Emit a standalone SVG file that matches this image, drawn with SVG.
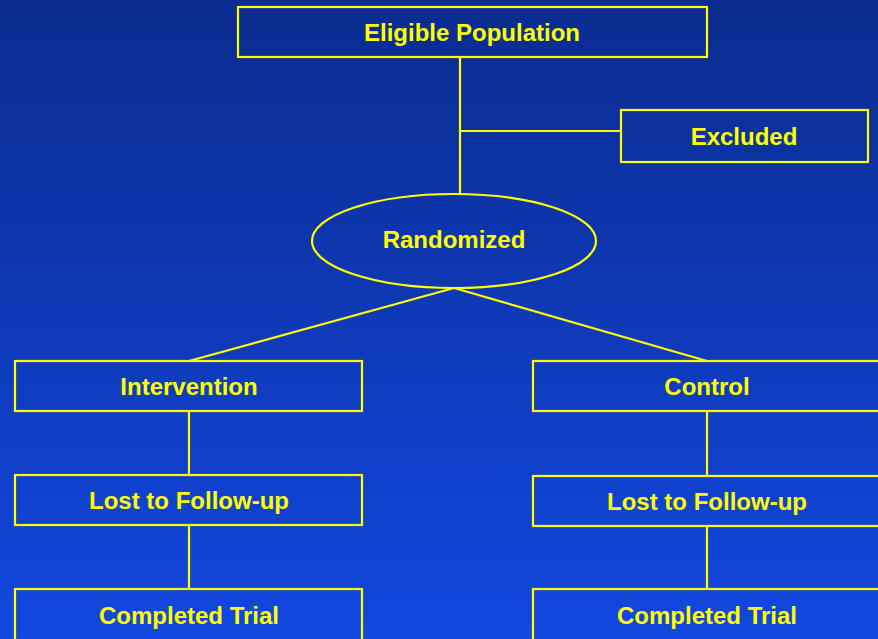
<svg xmlns="http://www.w3.org/2000/svg" width="878" height="639" viewBox="0 0 878 639">
  <defs>
    <linearGradient id="bg" x1="0" y1="0" x2="0" y2="1">
      <stop offset="0" stop-color="#0b2b8e"/>
      <stop offset="1" stop-color="#1248e0"/>
    </linearGradient>
    <style>
      .box { fill: none; stroke: #ffff00; stroke-width: 2.2; }
      .link { fill: none; stroke: #ffff00; stroke-width: 2.2; }
      .label { fill: #ffff00; font-family: "Liberation Sans", Arial, sans-serif; font-weight: bold; font-size: 24px; text-anchor: middle; }
    </style>
  </defs>

  <rect x="0" y="0" width="878" height="639" fill="url(#bg)"/>

  <!-- connectors -->
  <g id="connectors">
    <line class="link" x1="460" y1="57" x2="460" y2="194"/>
    <line class="link" x1="460" y1="131" x2="621" y2="131"/>
    <line class="link" x1="454" y1="288" x2="189" y2="361"/>
    <line class="link" x1="454" y1="288" x2="707" y2="361"/>
    <line class="link" x1="189" y1="411" x2="189" y2="475"/>
    <line class="link" x1="189" y1="525" x2="189" y2="589"/>
    <line class="link" x1="707" y1="411" x2="707" y2="476"/>
    <line class="link" x1="707" y1="526" x2="707" y2="589"/>
  </g>

  <g id="eligible">
    <rect class="box" x="238" y="7" width="469" height="50"/>
    <text class="label" x="472" y="41">Eligible Population</text>
  </g>

  <g id="excluded">
    <rect class="box" x="621" y="110" width="247" height="52"/>
    <text class="label" x="744" y="145">Excluded</text>
  </g>

  <g id="randomized">
    <ellipse class="box" cx="454" cy="241" rx="142" ry="47"/>
    <text class="label" x="454" y="248">Randomized</text>
  </g>

  <g id="intervention">
    <rect class="box" x="15" y="361" width="347" height="50"/>
    <text class="label" x="189" y="395">Intervention</text>
  </g>

  <g id="control">
    <rect class="box" x="533" y="361" width="347" height="50"/>
    <text class="label" x="707" y="395">Control</text>
  </g>

  <g id="lost-intervention">
    <rect class="box" x="15" y="475" width="347" height="50"/>
    <text class="label" x="189" y="509">Lost to Follow-up</text>
  </g>

  <g id="lost-control">
    <rect class="box" x="533" y="476" width="347" height="50"/>
    <text class="label" x="707" y="510">Lost to Follow-up</text>
  </g>

  <g id="completed-intervention">
    <rect class="box" x="15" y="589" width="347" height="52"/>
    <text class="label" x="189" y="624">Completed Trial</text>
  </g>

  <g id="completed-control">
    <rect class="box" x="533" y="589" width="347" height="52"/>
    <text class="label" x="707" y="624">Completed Trial</text>
  </g>
</svg>
